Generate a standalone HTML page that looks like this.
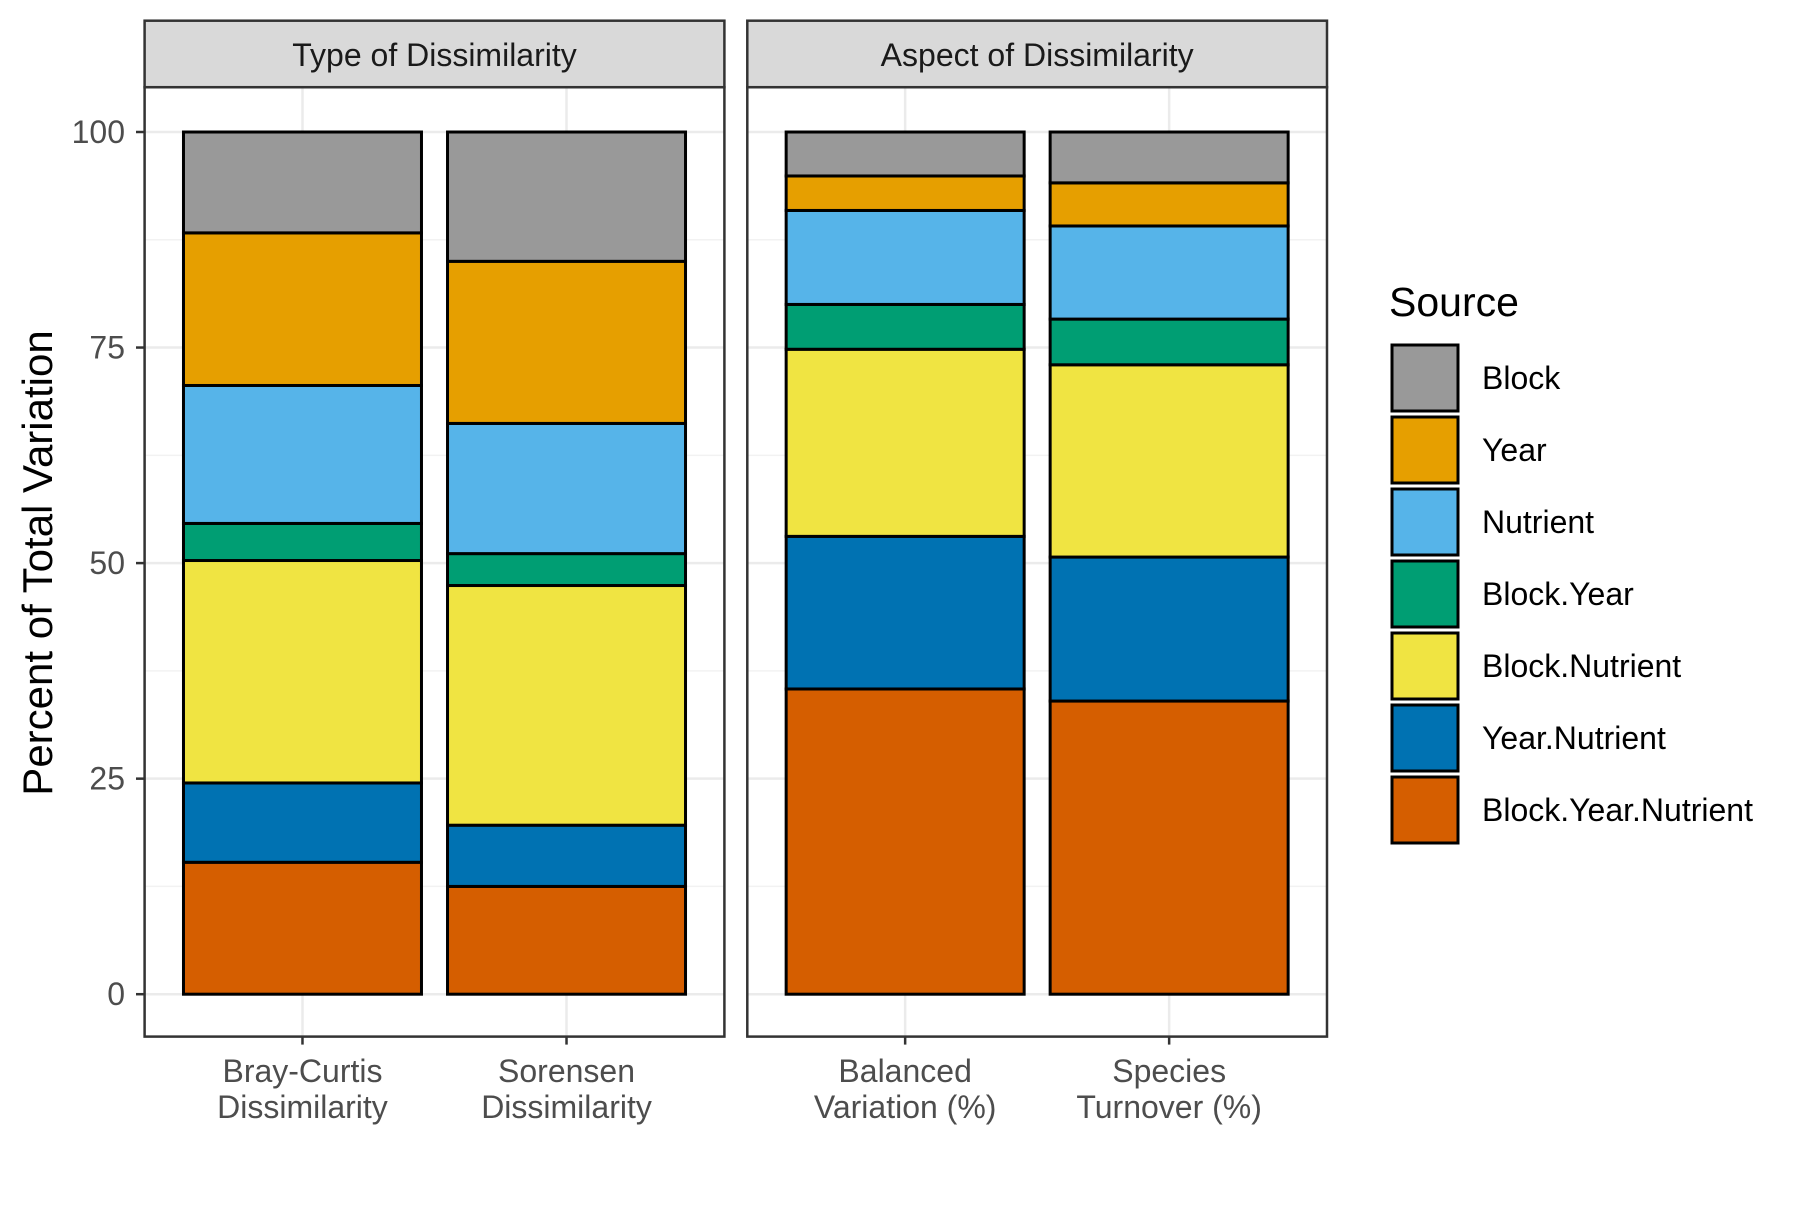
<!DOCTYPE html>
<html><head><meta charset="utf-8"><style>
body{margin:0;background:#fff}
text{font-family:"Liberation Sans",Arial,sans-serif}
</style></head><body>
<svg id="chart" width="1800" height="1200" xmlns="http://www.w3.org/2000/svg"></svg>
<script>
const sources = ["Block.Year.Nutrient","Year.Nutrient","Block.Nutrient","Block.Year","Nutrient","Year","Block"];
const colors = ["#D55E00","#0072B2","#F0E442","#009E73","#56B4E9","#E69F00","#999999"];
const panelTitles = ["Type of Dissimilarity","Aspect of Dissimilarity"];
const categories = [["Bray-Curtis|Dissimilarity","Sorensen|Dissimilarity"],["Balanced|Variation (%)","Species|Turnover (%)"]];
const valuesBC = [15.3,9.2,25.8,4.3,16.0,17.7,11.7];
const valuesSor = [12.5,7.1,27.8,3.7,15.1,18.8,15.0];
const valuesBal = [35.4,17.7,21.7,5.2,10.9,4.0,5.1];
const valuesSpe = [34.0,16.7,22.3,5.3,10.8,5.0,5.9];
const panelValues = [[valuesBC,valuesSor],[valuesBal,valuesSpe]];
const yTicks = [0,25,50,75,100];

const svg = document.getElementById('chart');
const NS = "http://www.w3.org/2000/svg";
function mk(tag, attrs, parent){const e=document.createElementNS(NS,tag);for(const k in attrs)e.setAttribute(k,attrs[k]);(parent||svg).appendChild(e);return e;}
const plotTop=87.2, plotBot=1036.6, stripTop=20.7;
const y = v => 994.2 - v*(994.2-132.0)/100;
const panels = [{x0:144.6,x1:724.4},{x0:747.3,x1:1327}];
const barW = 238;

panels.forEach((p,pi)=>{
  const g = mk('g',{});
  
  
  const w=p.x1-p.x0;
  const centers=[p.x0+w*0.2723, p.x0+w*0.7277];
  mk('rect',{x:p.x0,y:plotTop,width:w,height:plotBot-plotTop,fill:'#fff'},g);
  for(let v=12.5; v<=100; v+=25){mk('line',{x1:p.x0,x2:p.x1,y1:y(v),y2:y(v),stroke:'#f2f2f2','stroke-width':1.5},g);}
  yTicks.forEach(v=>{mk('line',{x1:p.x0,x2:p.x1,y1:y(v),y2:y(v),stroke:'#ebebeb','stroke-width':2.5},g);});
  centers.forEach(c=>mk('line',{x1:c,x2:c,y1:plotTop,y2:plotBot,stroke:'#ebebeb','stroke-width':2.5},g));
  panelValues[pi].forEach((vals,bi)=>{
    let cum=0;
    vals.forEach((v,si)=>{
      const r=mk('rect',{x:centers[bi]-barW/2,y:y(cum+v),width:barW,height:y(cum)-y(cum+v),fill:colors[si],stroke:'#000','stroke-width':3},g);
      
      
      cum+=v;
    });
    mk('line',{x1:centers[bi],x2:centers[bi],y1:plotBot,y2:plotBot+8,stroke:'#333','stroke-width':2.5},g);
    const lines=categories[pi][bi].split('|');
    lines.forEach((l,li)=>{
      const t=mk('text',{x:centers[bi],y:1082+li*36,'text-anchor':'middle','font-size':32,fill:'#4d4d4d'},g);
      t.textContent=l;
      
      
    });
  });
  mk('rect',{x:p.x0,y:plotTop,width:w,height:plotBot-plotTop,fill:'none',stroke:'#333','stroke-width':2.5},g);
  const s=mk('rect',{x:p.x0,y:stripTop,width:w,height:plotTop-stripTop,fill:'#d9d9d9',stroke:'#333','stroke-width':2.5},g);
  
  
  const st=mk('text',{x:p.x0+w/2,y:66,'text-anchor':'middle','font-size':32,fill:'#1a1a1a'},g);
  st.textContent=panelTitles[pi];
  
  
});
yTicks.forEach(v=>{
  mk('line',{x1:136,x2:144.6,y1:y(v),y2:y(v),stroke:'#333','stroke-width':2.5});
  const t=mk('text',{x:125,y:y(v)+11,'text-anchor':'end','font-size':32,fill:'#4d4d4d'});
  t.textContent=v;
  
  
});
const yt=mk('text',{x:0,y:0,'text-anchor':'middle','font-size':42,fill:'#000',transform:'translate(52,563) rotate(-90)'});
yt.textContent='Percent of Total Variation';


const lt=mk('text',{x:1389,y:316,'font-size':41,fill:'#000'});
lt.textContent='Source';


const legOrder=[6,5,4,3,2,1,0];
legOrder.forEach((si,i)=>{
  const ky=345+i*72;
  const k=mk('rect',{x:1392,y:ky,width:66,height:66,fill:colors[si],stroke:'#000','stroke-width':3});
  
  
  const t=mk('text',{x:1482,y:ky+44,'font-size':32,fill:'#000'});
  t.textContent=sources[si];
  
  
});
</script>
</body></html>
